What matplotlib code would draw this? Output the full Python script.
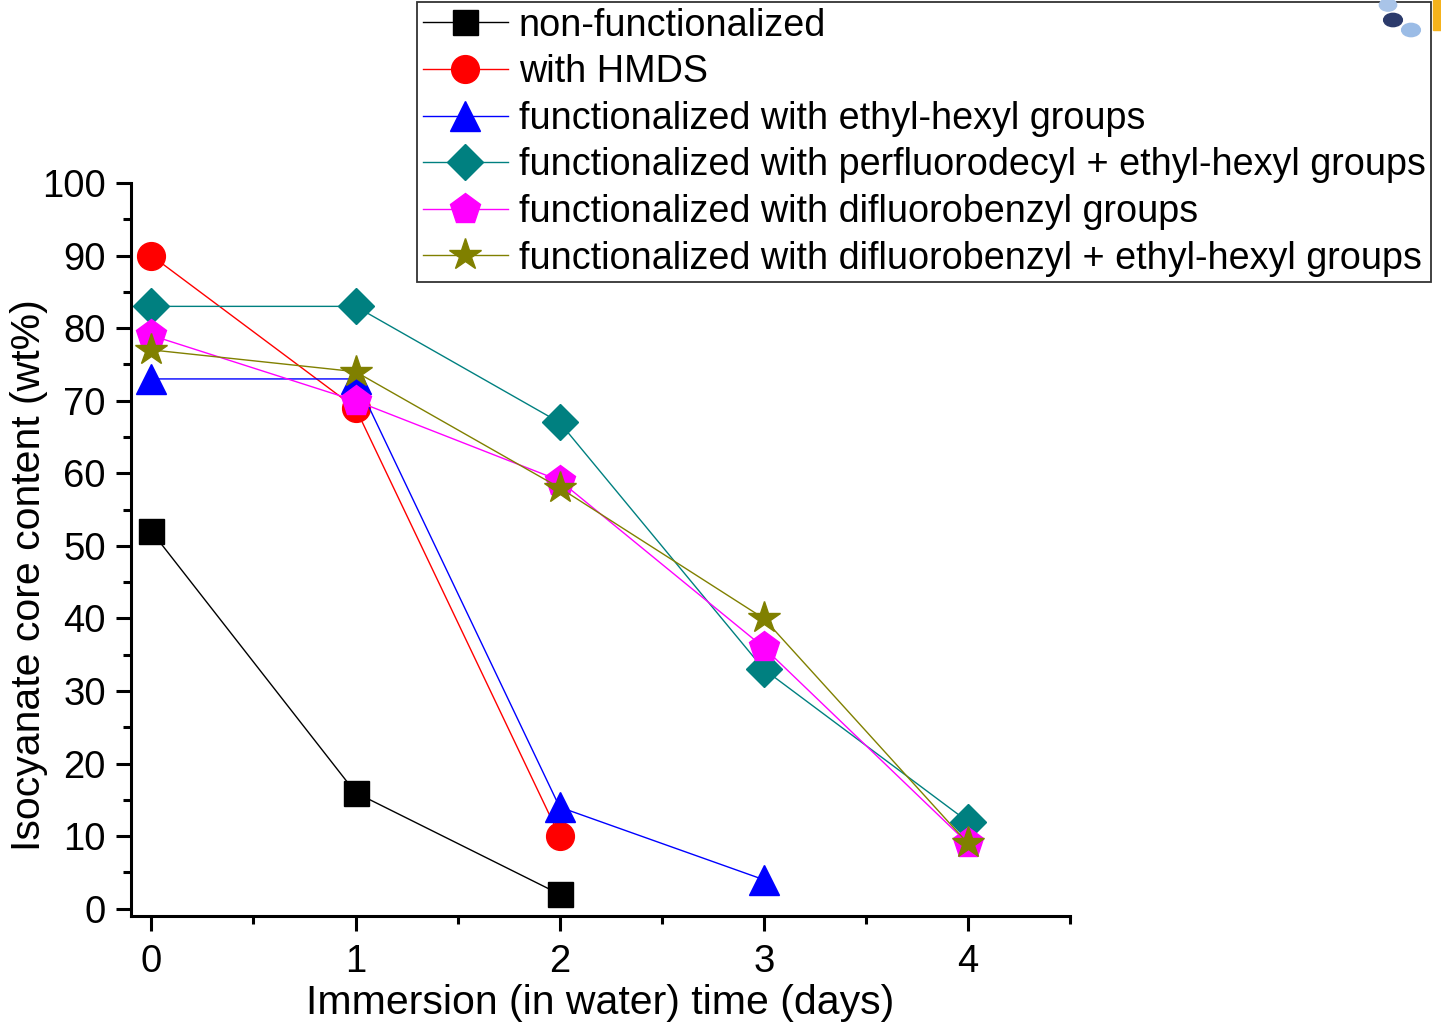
import numpy as np
import matplotlib
matplotlib.use('Agg')
import matplotlib.pyplot as plt
from matplotlib.ticker import MultipleLocator
from matplotlib.patches import Circle, Rectangle

plt.rcParams['font.family'] = ['Liberation Sans', 'DejaVu Sans']

# data
days_black = [0, 1, 2]
nonfunc = [52, 16, 2]
days_red = [0, 1, 2]
hmds = [90, 69, 10]
days_blue = [0, 1, 2, 3]
ethylhexyl = [73, 73, 14, 4]
days_all = [0, 1, 2, 3, 4]
perfluoro_eh = [83, 83, 67, 33, 12]
difluorobenzyl = [79, 70, 59, 36, 9]
difluorobenzyl_eh = [77, 74, 58, 40, 9]

labels = ['non-functionalized',
          'with HMDS',
          'functionalized with ethyl-hexyl groups',
          'functionalized with perfluorodecyl + ethyl-hexyl groups',
          'functionalized with difluorobenzyl groups',
          'functionalized with difluorobenzyl + ethyl-hexyl groups']

fig = plt.figure(figsize=(14.41, 10.24), dpi=100)
ax = fig.add_axes([0.0909, 0.1055, 0.6516, 0.7158])

lw = 1.0
ax.plot(days_black, nonfunc, color='black', marker='s', ms=18, lw=lw, label=labels[0])
ax.plot(days_red, hmds, color='red', marker='o', ms=20, lw=lw, label=labels[1])
ax.plot(days_blue, ethylhexyl, color='blue', marker='^', ms=21, lw=lw, label=labels[2])
ax.plot(days_all, perfluoro_eh, color='#008080', marker='D', ms=18, lw=lw, label=labels[3])
ax.plot(days_all, difluorobenzyl, color='#FF00FF', marker='p', ms=23, lw=lw, label=labels[4])
ax.plot(days_all, difluorobenzyl_eh, color='#808000', marker='*', ms=24, lw=lw, label=labels[5])

ax.set_xlim(-0.1, 4.5)
ax.set_ylim(-1, 100)
ax.xaxis.set_major_locator(MultipleLocator(1))
ax.xaxis.set_minor_locator(MultipleLocator(0.5))
ax.yaxis.set_major_locator(MultipleLocator(10))
ax.yaxis.set_minor_locator(MultipleLocator(5))
ax.set_xticks([0, 1, 2, 3, 4])
ax.set_xticklabels(['0', '1', '2', '3', '4'])

for s in ['top', 'right']:
    ax.spines[s].set_visible(False)
for s in ['left', 'bottom']:
    ax.spines[s].set_linewidth(2.2)
ax.spines['left'].set_bounds(-1, 100)

ax.tick_params(which='major', direction='out', length=11, width=2.2, labelsize=27.5, pad=7)
ax.tick_params(which='minor', direction='out', length=6, width=2.2)
ax.tick_params(axis='x', which='major', pad=9)

ax.set_xlabel('Immersion (in water) time (days)', fontsize=29.5, labelpad=3)
ax.set_ylabel('Isocyanate core content (wt%)', fontsize=29.5)
ax.yaxis.set_label_coords(-0.088, 0.465)

leg = fig.legend(loc='upper left', bbox_to_anchor=(417 / 1441, 1 - 2 / 1024), fontsize=27.2,
                 frameon=True, fancybox=False, handlelength=2.25, handletextpad=0.29,
                 labelspacing=0.28, borderpad=0.15, borderaxespad=0.0)
leg.get_frame().set_edgecolor('black')
leg.get_frame().set_linewidth(1.3)

# small logo fragment in the top right corner
fig.patches.append(Circle((1388 / 1441, 1 - 5 / 1024), 0.006, transform=fig.transFigure,
                          color='#a9c4e8', zorder=10))
fig.patches.append(Circle((1393 / 1441, 1 - 20 / 1024), 0.0065, transform=fig.transFigure,
                          color='#2b3a6b', zorder=10))
fig.patches.append(Circle((1411 / 1441, 1 - 30 / 1024), 0.0065, transform=fig.transFigure,
                          color='#9bbce6', zorder=10))
fig.patches.append(Rectangle((1433 / 1441, 1 - 30 / 1024), 8 / 1441, 30 / 1024,
                             transform=fig.transFigure, color='#f5b21b', zorder=10))

fig.savefig('out.png', dpi=100)
